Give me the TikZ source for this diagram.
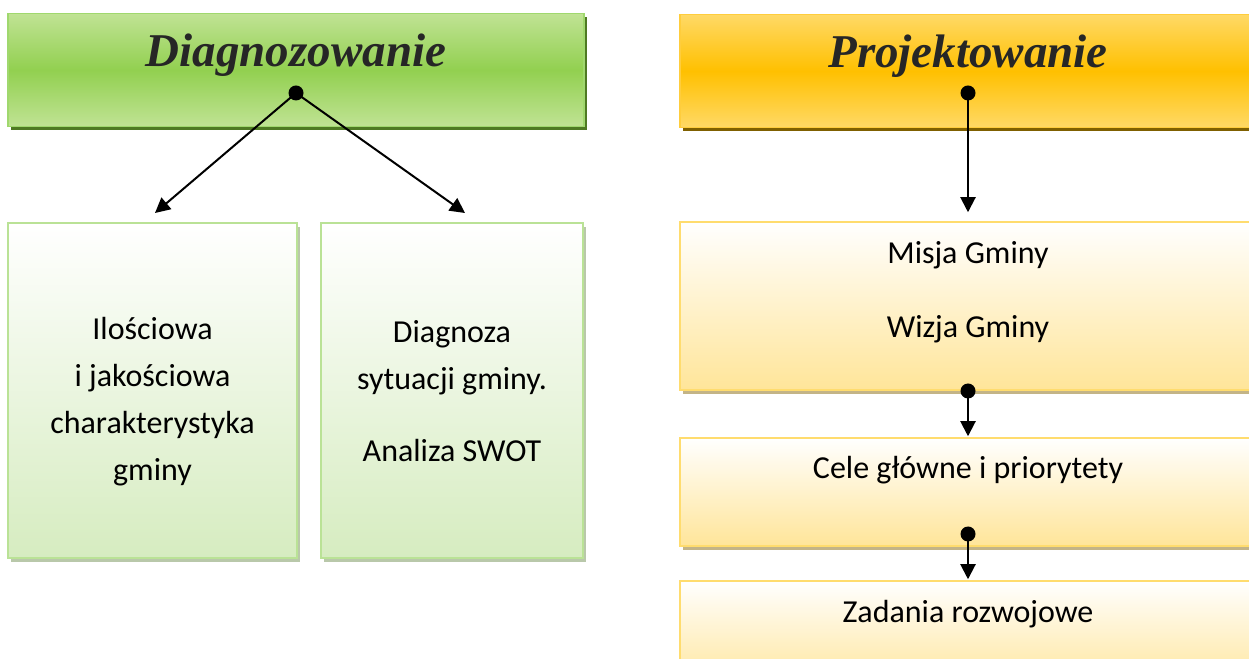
\documentclass[tikz,border=0pt]{standalone}
\usepackage{fontspec}
\setmainfont{Carlito}
\newfontfamily\headfont{Liberation Serif}
\usepackage{tikz}
\usetikzlibrary{positioning,shadows,arrows.meta}
\definecolor{gtop}{RGB}{192,227,148}
\definecolor{gmid}{RGB}{146,208,80}
\definecolor{gline}{RGB}{160,216,110}
\definecolor{gshadow}{RGB}{79,122,35}
\definecolor{gbot}{RGB}{214,236,192}
\definecolor{gbox}{RGB}{186,226,150}
\definecolor{ytop}{RGB}{255,217,102}
\definecolor{ymid}{RGB}{255,192,0}
\definecolor{yline}{RGB}{255,205,60}
\definecolor{yshadow}{RGB}{127,96,0}
\definecolor{ybot}{RGB}{255,229,153}
\definecolor{ybox}{RGB}{255,220,110}
\definecolor{boxshadow}{RGB}{195,180,135}
\definecolor{gboxshadow}{RGB}{185,200,170}
\definecolor{headtext}{RGB}{38,38,38}
\tikzset{
  x=1pt, y=1pt,
  header/.style={draw=#1line, line width=1.5pt, minimum width=576pt, minimum height=113pt,
    top color=#1top, bottom color=#1top, middle color=#1mid,
    drop shadow={shadow xshift=3pt, shadow yshift=-4pt, fill=#1shadow, opacity=1}},
  headtitle/.style={font=\headfont\bfseries\itshape\fontsize{47}{56}\selectfont, text=headtext},
  gbody/.style={draw=gbox, line width=1.5pt, top color=white, bottom color=gbot,
    minimum height=335pt,
    drop shadow={shadow xshift=3pt, shadow yshift=-4pt, fill=gboxshadow, opacity=1}},
  ybody/.style={draw=ybox, line width=1.5pt, top color=white, bottom color=ybot,
    minimum width=576pt,
    drop shadow={shadow xshift=3pt, shadow yshift=-4pt, fill=boxshadow, opacity=1}},
  btext/.style={font=\fontsize{32}{47}\selectfont, align=center},
  dot/.style={circle, fill=black, inner sep=0pt, minimum size=15pt},
  arr/.style={line width=2pt, -{Triangle[width=15pt,length=15pt]}}
}
\begin{document}
\begin{tikzpicture}
\useasboundingbox (0,0) rectangle (1249,658);
\clip (0,0) rectangle (1249,658);
% Diagnozowanie
\node[header=g] (diag) at (296,588) {};
\node[headtitle] (diagt) at ([yshift=15pt]diag.center) {Diagnozowanie};
\node[gbody, minimum width=289pt] (ilosc) at (152.5,267.5) {};
\node[gbody, minimum width=262pt] (swot) at (452,267.5) {};
\node[btext] (iloscT) at ([yshift=-11pt]ilosc.center)
  {Ilościowa\\ i jakościowa\\charakterystyka\\gminy};
\node[btext] (swotT) at ([yshift=-1pt]swot.center)
  {Diagnoza\\sytuacji gminy.\\[25pt]Analiza SWOT};
\node[dot] (d1) at (296,565) {};
\coordinate (e1) at (155,445);
\coordinate (e2) at (465,445);
\draw[arr] (d1.center) -- (e1);
\draw[arr] (d1.center) -- (e2);
% Projektowanie
\node[header=y] (proj) at (968,587) {};
\node[headtitle] (projt) at ([yshift=15pt]proj.center) {Projektowanie};
\node[ybody, minimum height=168pt] (misja) at (968,352) {};
\node[ybody, minimum height=108pt] (cele) at (968,166) {};
\node[ybody, minimum height=108pt] (zad) at (968,23) {};
\node[btext, below=17pt of misja.north] (misjat) {Misja Gminy\\[27pt]Wizja Gminy};
\node[btext, below=16pt of cele.north] (celet) {Cele główne i priorytety};
\node[btext, below=16pt of zad.north] (zadt) {Zadania rozwojowe};
\node[dot] (d2) at (968,565) {};
\node[dot] (d3) at (968,267) {};
\node[dot] (d4) at (968,124) {};
\draw[arr] (d2.center) -- ([yshift=9pt]misja.north);
\draw[arr] (d3.center) -- ([yshift=1pt]cele.north);
\draw[arr] (d4.center) -- ([yshift=1pt]zad.north);
\end{tikzpicture}
\end{document}
